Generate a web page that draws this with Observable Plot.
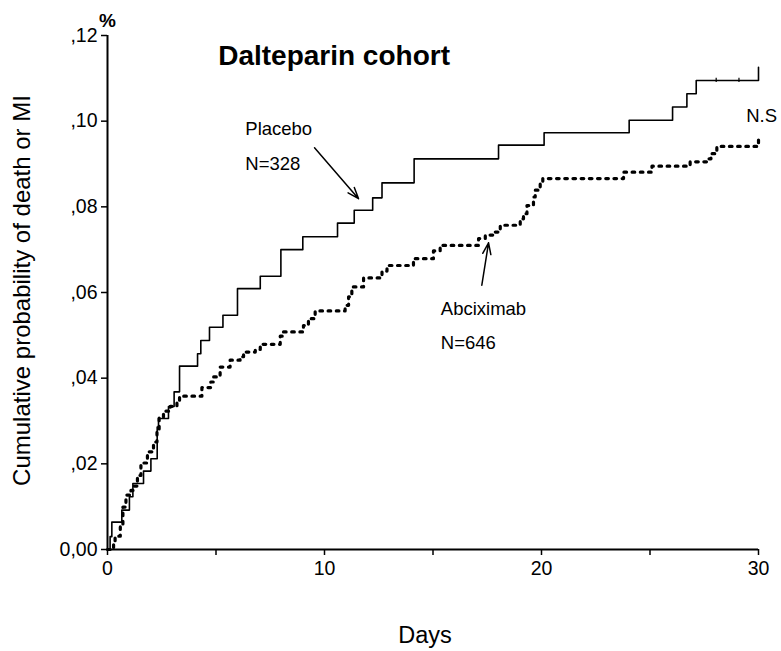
<!DOCTYPE html>
<html>
<head>
<meta charset="utf-8">
<script src="https://cdn.jsdelivr.net/npm/d3@7"></script>
<script src="https://cdn.jsdelivr.net/npm/@observablehq/plot@0.6"></script>
<style>
  html, body { margin: 0; padding: 0; background: white; }
</style>
</head>
<body>
<div id="chart"></div>
<script>
// Placebo (N=328) – Kaplan-Meier cumulative probability of death or MI
const placeboDays = [0, 0.12, 0.2, 0.66, 1.01, 1.17, 1.66, 2.0, 2.29, 2.35, 2.81, 3.07, 3.32, 4.15, 4.30, 4.70, 5.32, 5.99, 7.04, 7.99, 9.0, 10.6, 11.37, 12.22, 12.65, 14.13, 18.02, 20.12, 24.04, 26.04, 26.7, 27.13, 30.0];
const placeboRisk = [0, 0.003, 0.0064, 0.0092, 0.0123, 0.0154, 0.0183, 0.0212, 0.0286, 0.0306, 0.0334, 0.0368, 0.0428, 0.0457, 0.0488, 0.0519, 0.0547, 0.0609, 0.0638, 0.0700, 0.0730, 0.0762, 0.0792, 0.0821, 0.0856, 0.0912, 0.0944, 0.0973, 0.1002, 0.1033, 0.1064, 0.1095, 0.1126];
const placeboCensorDays = [28.05, 29.1];
const placeboCensorRisk = [0.1095, 0.1095];

// Abciximab (N=646)
const abcDays = [0, 0.28, 0.35, 0.59, 0.71, 0.85, 1.08, 1.20, 1.38, 1.54, 1.84, 2.12, 2.28, 2.38, 2.58, 2.89, 3.20, 3.32, 4.35, 4.76, 4.88, 5.19, 5.65, 6.11, 6.27, 6.81, 7.04, 7.96, 8.11, 9.03, 9.26, 9.57, 10.95, 11.11, 11.26, 11.80, 12.65, 12.88, 14.10, 15.02, 15.33, 17.10, 17.41, 17.79, 18.10, 19.02, 19.17, 19.33, 19.63, 19.71, 19.94, 20.06, 23.78, 25.09, 26.85, 27.70, 27.81, 28.08, 30.0];
const abcRisk = [0, 0.0015, 0.0031, 0.0053, 0.0099, 0.0127, 0.0138, 0.0148, 0.0173, 0.0202, 0.0228, 0.0251, 0.0278, 0.0309, 0.0323, 0.0334, 0.0344, 0.0358, 0.0378, 0.0391, 0.0403, 0.0426, 0.0442, 0.0450, 0.0461, 0.0467, 0.0479, 0.0498, 0.0508, 0.0523, 0.0539, 0.0557, 0.0570, 0.0590, 0.0613, 0.0634, 0.0650, 0.0663, 0.0679, 0.0697, 0.0710, 0.0726, 0.0734, 0.0741, 0.0757, 0.0772, 0.0784, 0.0803, 0.0823, 0.0839, 0.0854, 0.0866, 0.0881, 0.0895, 0.0905, 0.0912, 0.0924, 0.0941, 0.0957];

// Axis ticks and labels
const xTicks = [0, 5, 10, 15, 20, 25, 30];
const xLabeledTicks = [0, 10, 20, 30];
const xTickLabels = ["0", "10", "20", "30"];
const yTicks = [0, 0.02, 0.04, 0.06, 0.08, 0.10, 0.12];
const yTickLabels = ["0,00", ",02", ",04", ",06", ",08", ",10", ",12"];

// Texts
const chartTitle = "Dalteparin cohort";
const xLabel = "Days";
const yLabel = "Cumulative probability of death or MI";
const yUnit = "%";

// Annotation anchors (in data units: day, probability)
const labels = [
  {text: "Placebo", day: 6.35, p: 0.0967},
  {text: "N=328", day: 6.35, p: 0.0887},
  {text: "Abciximab", day: 15.36, p: 0.0547},
  {text: "N=646", day: 15.36, p: 0.0469},
  {text: "N.S", day: 29.43, p: 0.0998}
];
const arrows = [
  {d1: 9.54, p1: 0.0938, d2: 11.57, p2: 0.0819},
  {d1: 17.25, p1: 0.0617, d2: 17.56, p2: 0.0716}
];
const titlePos = {day: 5.10, p: 0.1130};
const unitPos = {day: 0, p: 0.1221};

const placebo = placeboDays.map((d, i) => ({day: d, p: placeboRisk[i]}));
const abc = abcDays.map((d, i) => ({day: d, p: abcRisk[i]}));
const censor = placeboCensorDays.map((d, i) => ({day: d, p: placeboCensorRisk[i]}));
const yTickData = yTicks.map((v, i) => ({v, label: yTickLabels[i]}));
const xTickData = xLabeledTicks.map((v, i) => ({v, label: xTickLabels[i]}));

const font = "'Liberation Sans', Arial, Helvetica, sans-serif";

const chart = Plot.plot({
  width: 781,
  height: 651,
  marginTop: 35,
  marginLeft: 107,
  marginRight: 23,
  marginBottom: 102,
  style: {fontFamily: font, fontSize: "19.5px", color: "black", background: "white", overflow: "visible"},
  x: {domain: [0, 30]},
  y: {domain: [0, 0.12]},
  marks: [
    Plot.axisX({ticks: xTicks, tickSize: 6, tickFormat: () => "", label: null, strokeWidth: 1.5}),
    Plot.axisY({ticks: yTicks, tickSize: 6, tickFormat: () => "", label: null, strokeWidth: 1.5}),
    Plot.text(yTickData, {x: 0, y: "v", text: "label", textAnchor: "end", lineAnchor: "middle", dx: -10, fontSize: 19.5, fill: "black", clip: false}),
    Plot.text(xTickData, {x: "v", y: 0, text: "label", textAnchor: "middle", lineAnchor: "top", dy: 12, fontSize: 19.5, fill: "black", clip: false}),
    Plot.ruleX([0], {stroke: "black", strokeWidth: 2}),
    Plot.ruleY([0], {stroke: "black", strokeWidth: 2}),
    Plot.line(placebo, {x: "day", y: "p", curve: "step-after", stroke: "black", strokeWidth: 1.6}),
    Plot.ruleX(censor, {x: "day", y1: d => d.p - 0.0005, y2: d => d.p + 0.0005, stroke: "black", strokeWidth: 1.2}),
    Plot.line(abc, {x: "day", y: "p", curve: "step-after", stroke: "black", strokeWidth: 3.2, strokeDasharray: "2.6,5.6"}),
    Plot.arrow(arrows, {x1: "d1", y1: "p1", x2: "d2", y2: "p2", stroke: "black", strokeWidth: 1.5, headLength: 12, headAngle: 40}),
    Plot.text(labels, {x: "day", y: "p", text: "text", textAnchor: "start", lineAnchor: "bottom", fontSize: 18.5, fill: "black"}),
    Plot.text([chartTitle], {x: titlePos.day, y: titlePos.p, textAnchor: "start", lineAnchor: "bottom", fontSize: 28, fontWeight: "bold", fill: "black"}),
    Plot.text([yUnit], {x: unitPos.day, y: unitPos.p, textAnchor: "middle", lineAnchor: "bottom", fontSize: 19, fontWeight: "bold", fill: "black"}),
    Plot.text([xLabel], {frameAnchor: "bottom", dy: 86, dx: -8, textAnchor: "middle", lineAnchor: "middle", fontSize: 23.5, fill: "black"}),
    Plot.text([yLabel], {frameAnchor: "left", dx: -85, dy: -2, rotate: -90, textAnchor: "middle", lineAnchor: "middle", fontSize: 24, fill: "black"})
  ]
});

document.getElementById("chart").appendChild(chart);
</script>
</body>
</html>
